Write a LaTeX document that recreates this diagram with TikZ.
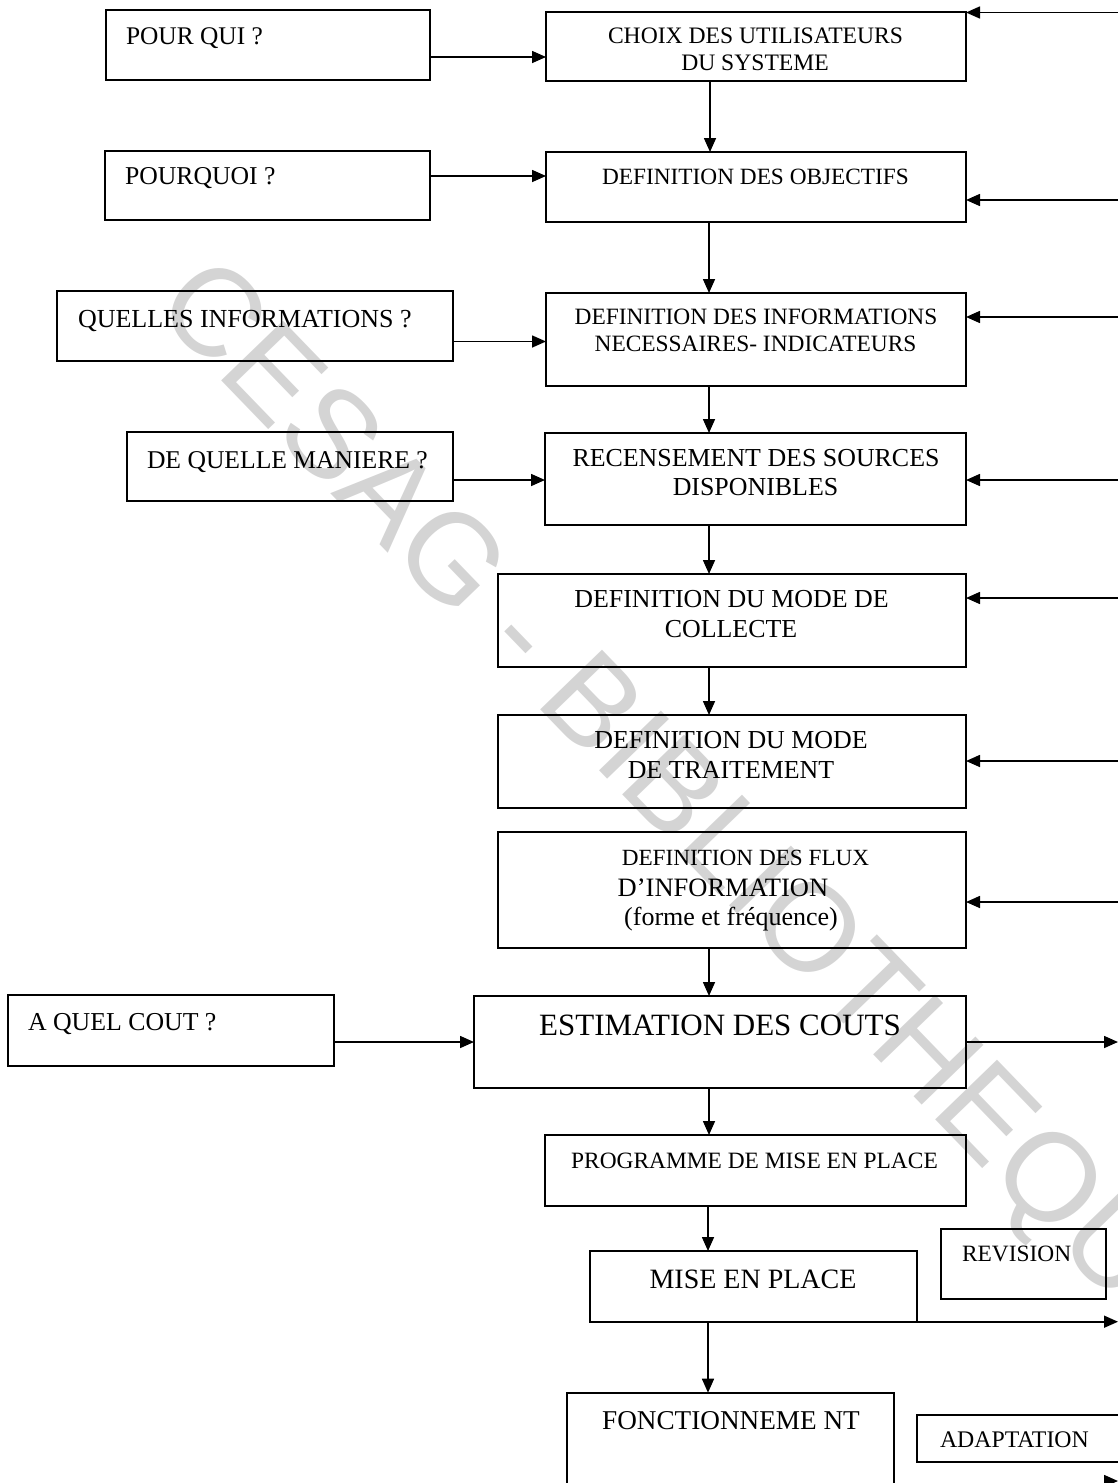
\documentclass[tikz,border=0pt]{standalone}
\usepackage{fontspec}
\setmainfont{Liberation Serif}
\newfontfamily\wmfont{Liberation Sans}
\usetikzlibrary{arrows.meta,fit}
\newcommand\fsz[1]{\fontsize{#1}{#1}\selectfont}
\begin{document}
\begin{tikzpicture}[x=1pt,y=-1pt,
  box/.style={draw,line width=1.6pt,inner sep=0pt,outer sep=0pt,rectangle},
  txt/.style={inner sep=0pt,outer sep=0pt,text=black},
  arr/.style={line width=1.6pt,-{Triangle[length=14pt,width=12pt]}},
  wm/.style={inner sep=0pt,text=black!17,font=\wmfont\fsz{125}}]
\useasboundingbox (0,0) rectangle (1118,1483);
\begin{scope}
\clip (0,0) rectangle (1118,1483);
% watermark
\node[wm,rotate=-46,anchor=base west] (wmark) at (152,308) {CESAG - BIBLIOTHEQUE};

% boxes
\node[box,fit={(106,10) (430,80)}] (q1) {};
\node[box,fit={(546,11.7) (966,81)}] (choix) {};
\node[box,fit={(105,151) (430,220)}] (q2) {};
\node[box,fit={(546,152) (966,222)}] (obj) {};
\node[box,fit={(57,291) (453,361)}] (q3) {};
\node[box,fit={(546,293) (966,386)}] (info) {};
\node[box,fit={(127,432) (453,501)}] (q4) {};
\node[box,fit={(545,433) (966,525)}] (recens) {};
\node[box,fit={(498,574) (966,667)}] (collecte) {};
\node[box,fit={(498,715) (966,808)}] (traitement) {};
\node[box,fit={(498,832) (966,948)}] (flux) {};
\node[box,fit={(8,995) (334,1066)}] (q5) {};
\node[box,fit={(474,996) (966,1088)}] (estim) {};
\node[box,fit={(545,1135) (966,1206)}] (prog) {};
\node[box,fit={(590,1251) (917,1321.7)}] (mise) {};
\node[box,fit={(941,1229) (1106,1299)}] (revision) {};
\node[box,fit={(567,1392.7) (894,1500)}] (fonct) {};
\node[box,fit={(917,1415) (1135,1462)}] (adapt) {};

% texts
\node[txt,font=\fsz{25.4},anchor=base west] (q1t) at (126,44) {POUR QUI ?};
\node[txt,font=\fsz{25.7},anchor=base west] (q2t) at (125,184) {POURQUOI ?};
\node[txt,font=\fsz{26},anchor=base west] (q3t) at (78,327) {QUELLES INFORMATIONS ?};
\node[txt,font=\fsz{25.6},anchor=base west] (q4t) at (147,468) {DE QUELLE MANIERE ?};
\node[txt,font=\fsz{25.8},anchor=base west] (q5t) at (28,1030) {A QUEL COUT ?};
\node[txt,font=\fsz{23.4},anchor=base west] (revt) at (962,1261) {REVISION};
\node[txt,font=\fsz{23.8},anchor=base west] (adat) at (940,1447) {ADAPTATION};

\node[txt,font=\fsz{23.6},anchor=base] (choixa) at (755.5,43) {CHOIX DES UTILISATEURS};
\node[txt,font=\fsz{23.6},anchor=base] (choixb) at (755,70.5) {DU SYSTEME};
\node[txt,font=\fsz{23.3},anchor=base] (objt) at (755.5,184) {DEFINITION DES OBJECTIFS};
\node[txt,font=\fsz{23.4},anchor=base] (infoa) at (756,324) {DEFINITION DES INFORMATIONS};
\node[txt,font=\fsz{23.4},anchor=base] (infob) at (755.5,351) {NECESSAIRES- INDICATEURS};
\node[txt,font=\fsz{25.9},anchor=base] (recensa) at (756,466) {RECENSEMENT DES SOURCES};
\node[txt,font=\fsz{25.9},anchor=base] (recensb) at (755.5,495.5) {DISPONIBLES};
\node[txt,font=\fsz{25.9},anchor=base] (colla) at (731.5,607) {DEFINITION DU MODE DE};
\node[txt,font=\fsz{25.9},anchor=base] (collb) at (731,637) {COLLECTE};
\node[txt,font=\fsz{25.9},anchor=base] (traita) at (731,748) {DEFINITION DU MODE};
\node[txt,font=\fsz{25.9},anchor=base] (traitb) at (731,778) {DE TRAITEMENT};
\node[txt,font=\fsz{23.2},anchor=base] (fluxa) at (745.5,865) {DEFINITION DES FLUX};
\node[txt,font=\fsz{26.5},anchor=base] (fluxb) at (723,896.5) {D’INFORMATION};
\node[txt,font=\fsz{26},anchor=base] (fluxc) at (731,925) {(forme et fréquence)};
\node[txt,font=\fsz{31},anchor=base] (estimt) at (720,1035) {ESTIMATION DES COUTS};
\node[txt,font=\fsz{23.4},anchor=base] (progt) at (754.5,1168) {PROGRAMME DE MISE EN PLACE};
\node[txt,font=\fsz{28},anchor=base] (miset) at (753,1288) {MISE EN PLACE};
\node[txt,font=\fsz{27.2},anchor=base] (fonctt) at (731,1429) {FONCTIONNEME NT};

% left to right arrows
\draw[arr] (q1.east |- 0,57) -- (choix.west |- 0,57);
\draw[arr] (q2.east |- 0,176) -- (obj.west |- 0,176);
\draw[arr] (q3.east |- 0,341.5) -- (info.west |- 0,341.5);
\draw[arr] (q4.east |- 0,480) -- (recens.west |- 0,480);
\draw[arr] (q5.east |- 0,1042) -- (estim.west |- 0,1042);

% vertical arrows
\draw[arr] (choix.south -| 710,0) -- (obj.north -| 710,0);
\draw[arr] (obj.south -| 709,0) -- (info.north -| 709,0);
\draw[arr] (info.south -| 709,0) -- (recens.north -| 709,0);
\draw[arr] (recens.south -| 709,0) -- (collecte.north -| 709,0);
\draw[arr] (collecte.south -| 709,0) -- (traitement.north -| 709,0);
\draw[arr] (flux.south -| 709,0) -- (estim.north -| 709,0);
\draw[arr] (estim.south -| 709,0) -- (prog.north -| 709,0);
\draw[arr] (prog.south -| 708,0) -- (mise.north -| 708,0);
\draw[arr] (mise.south -| 708,0) -- (fonct.north -| 708,0);

% incoming from the right
\coordinate (r1) at (1118,12.5);
\coordinate (r2) at (1118,200);
\coordinate (r3) at (1118,317);
\coordinate (r4) at (1118,480);
\coordinate (r5) at (1118,598);
\coordinate (r6) at (1118,761);
\coordinate (r7) at (1118,902);
\draw[arr] (r1) -- (r1 -| choix.east);
\draw[arr] (r2) -- (r2 -| obj.east);
\draw[arr] (r3) -- (r3 -| info.east);
\draw[arr] (r4) -- (r4 -| recens.east);
\draw[arr] (r5) -- (r5 -| collecte.east);
\draw[arr] (r6) -- (r6 -| traitement.east);
\draw[arr] (r7) -- (r7 -| flux.east);

% outgoing to the right
\coordinate (o1) at (1118,1042);
\coordinate (o2) at (1118,1321.7);
\coordinate (o3a) at (1104,1481);
\coordinate (o3) at (1118,1481);
\draw[arr] (estim.east |- o1) -- (o1);
\draw[arr] (mise.south east) -- (o2);
\draw[arr] (o3a) -- (o3);
\end{scope}
\end{tikzpicture}
\end{document}
